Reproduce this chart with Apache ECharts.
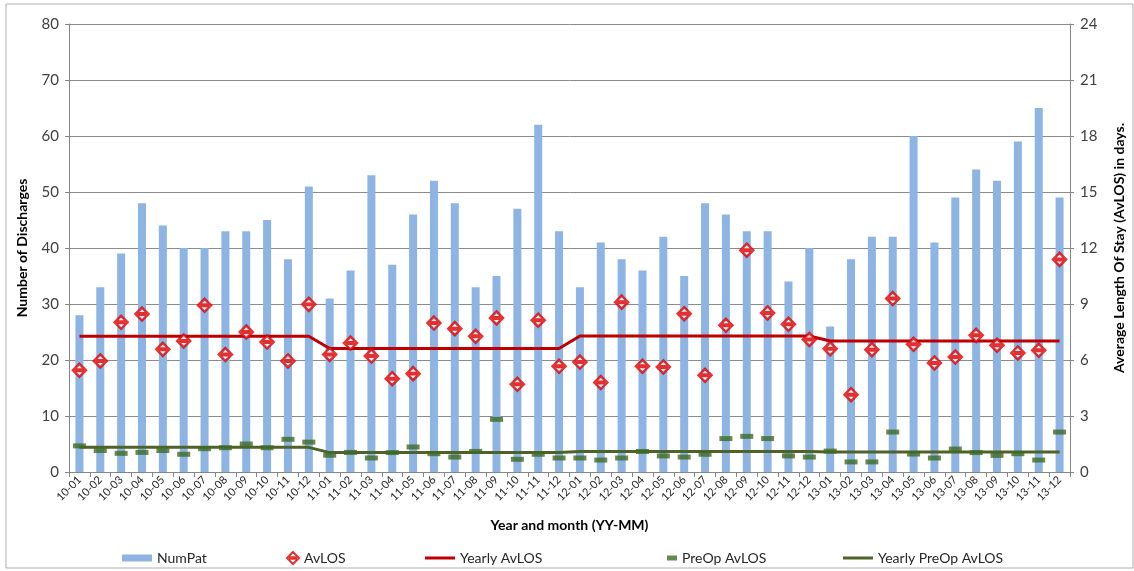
<!DOCTYPE html>
<html>
<head>
<meta charset="utf-8">
<script src="https://cdn.jsdelivr.net/npm/echarts@6/dist/echarts.min.js"></script>
<style>
  html, body { margin: 0; padding: 0; background: #fff; }
  #chart { width: 1134px; height: 571px; }
</style>
</head>
<body>
<div id="chart"></div>
<script>
// months 10-01 .. 13-12
const years = ["10", "11", "12", "13"];
const months = [];
years.forEach(y => {
  for (let m = 1; m <= 12; m++) months.push(y + "-" + (m < 10 ? "0" + m : m));
});

// number of discharges per month
const numPat = [
  28, 33, 39, 48, 44, 40, 40, 43, 43, 45, 38, 51,
  31, 36, 53, 37, 46, 52, 48, 33, 35, 47, 62, 43,
  33, 41, 38, 36, 42, 35, 48, 46, 43, 43, 34, 40,
  26, 38, 42, 42, 60, 41, 49, 54, 52, 59, 65, 49
];

// average length of stay, days
const avLOS = [
  5.45, 5.95, 8.02, 8.46, 6.57, 7.02, 8.93, 6.29, 7.5, 6.96, 5.95, 8.98,
  6.3, 6.91, 6.21, 5.0, 5.27, 7.98, 7.68, 7.27, 8.25, 4.7, 8.13, 5.66,
  5.89, 4.79, 9.1, 5.66, 5.63, 8.48, 5.18, 7.86, 11.88, 8.52, 7.91, 7.1,
  6.6, 4.14, 6.55, 9.29, 6.84, 5.84, 6.16, 7.32, 6.79, 6.38, 6.52, 11.39
];

// pre-operative average length of stay, days
const preOpLOS = [
  1.4, 1.15, 1.0, 1.05, 1.15, 0.95, 1.25, 1.3, 1.5, 1.3, 1.75, 1.6,
  0.9, 1.05, 0.75, 1.04, 1.34, 0.98, 0.8, 1.1, 2.82, 0.68, 0.95, 0.75,
  0.75, 0.64, 0.75, 1.1, 0.86, 0.8, 0.95, 1.79, 1.91, 1.79, 0.86, 0.8,
  1.12, 0.54, 0.54, 2.14, 0.96, 0.75, 1.23, 1.04, 0.89, 0.98, 0.64, 2.14
];

// yearly averages (2010..2013), days
const yearlyAvLOS = [7.27, 6.62, 7.29, 7.02];
const yearlyPreOp = [1.32, 1.04, 1.1, 1.07];

const byMonth = arr => months.map((m, i) => arr[Math.floor(i / 12)]);

const font = "Lato";
const chart = echarts.init(document.getElementById("chart"));

// diamond outline with a short bar across the middle, like the original marker
const diamondMark = "path://M7,0 L14,7 L7,14 L0,7 Z M3.5,6.2 L10.5,6.2 L10.5,7.8 L3.5,7.8 Z";

const legendBase = {
  top: 546,
  textStyle: { fontFamily: font, fontSize: 14, color: "#262626" },
  itemGap: 4,
  selectedMode: false
};

const option = {
  backgroundColor: "#fff",
  animation: false,
  grid: { left: 69, right: 64, top: 24, bottom: 99 },
  graphic: [{
    type: "rect",
    shape: { x: 6, y: 4, width: 1127, height: 564 },
    style: { fill: "none", stroke: "#b0b0b0", lineWidth: 1 },
    silent: true
  }],
  legend: [
    Object.assign({}, legendBase, { left: 117, data: ["NumPat"], itemWidth: 30, itemHeight: 7, icon: "rect" }),
    Object.assign({}, legendBase, { left: 281, data: ["AvLOS"], itemWidth: 12, itemHeight: 12, itemGap: 12 }),
    Object.assign({}, legendBase, { left: 420, data: ["Yearly AvLOS"], itemWidth: 30, itemHeight: 3, icon: "rect" }),
    Object.assign({}, legendBase, { left: 662, data: ["PreOp AvLOS"], itemWidth: 10, itemHeight: 5, icon: "rect", itemGap: 12 }),
    Object.assign({}, legendBase, { left: 838, data: ["Yearly PreOp AvLOS"], itemWidth: 30, itemHeight: 3, icon: "rect" })
  ],
  xAxis: {
    type: "category",
    data: months,
    name: "Year and month (YY-MM)",
    nameLocation: "middle",
    nameGap: 46,
    nameTextStyle: { fontFamily: font, fontSize: 14, fontWeight: "bold", color: "#000" },
    axisLine: { lineStyle: { color: "#868686" } },
    axisTick: { show: true, length: 5, lineStyle: { color: "#868686" } },
    axisLabel: { rotate: 45, fontFamily: font, fontSize: 11, color: "#262626", margin: 6, interval: 0 }
  },
  yAxis: [
    {
      type: "value",
      min: 0, max: 80, interval: 10,
      name: "Number of Discharges",
      nameLocation: "middle",
      nameGap: 40,
      nameTextStyle: { fontFamily: font, fontSize: 14, fontWeight: "bold", color: "#000" },
      axisLine: { show: true, lineStyle: { color: "#868686" } },
      axisTick: { show: true, length: 4, lineStyle: { color: "#868686" } },
      axisLabel: { fontFamily: font, fontSize: 15, color: "#404040", margin: 10 },
      splitLine: { lineStyle: { color: "#8c8c8c", width: 1 } }
    },
    {
      type: "value",
      min: 0, max: 24, interval: 3,
      name: "Average Length Of Stay (AvLOS) in days.",
      nameLocation: "middle",
      nameGap: 42,
      nameRotate: 90,
      nameTextStyle: { fontFamily: font, fontSize: 14, fontWeight: "bold", color: "#000" },
      axisLine: { show: true, lineStyle: { color: "#868686" } },
      axisTick: { show: true, length: 4, lineStyle: { color: "#868686" } },
      axisLabel: { fontFamily: font, fontSize: 15, color: "#404040", margin: 10 },
      splitLine: { show: false }
    }
  ],
  series: [
    {
      name: "NumPat",
      type: "bar",
      data: numPat,
      barWidth: 8,
      itemStyle: { color: "#8db4e2" }
    },
    {
      name: "Yearly AvLOS",
      type: "line",
      yAxisIndex: 1,
      data: byMonth(yearlyAvLOS),
      symbol: "none",
      lineStyle: { color: "#c00000", width: 3 },
      itemStyle: { color: "#c00000" },
      z: 3
    },
    {
      name: "Yearly PreOp AvLOS",
      type: "line",
      yAxisIndex: 1,
      data: byMonth(yearlyPreOp),
      symbol: "none",
      lineStyle: { color: "#4f6228", width: 3 },
      itemStyle: { color: "#4f6228" },
      z: 3
    },
    {
      name: "AvLOS",
      type: "scatter",
      yAxisIndex: 1,
      data: avLOS,
      symbol: diamondMark,
      symbolSize: [13, 13],
      itemStyle: { color: "#ffffff", borderColor: "#dd0000", borderWidth: 2.5 },
      z: 5
    },
    {
      name: "PreOp AvLOS",
      type: "scatter",
      yAxisIndex: 1,
      data: preOpLOS,
      symbol: "rect",
      symbolSize: [13, 5],
      itemStyle: { color: "#3f6b23" },
      z: 4
    }
  ]
};

chart.setOption(option);
</script>
</body>
</html>
